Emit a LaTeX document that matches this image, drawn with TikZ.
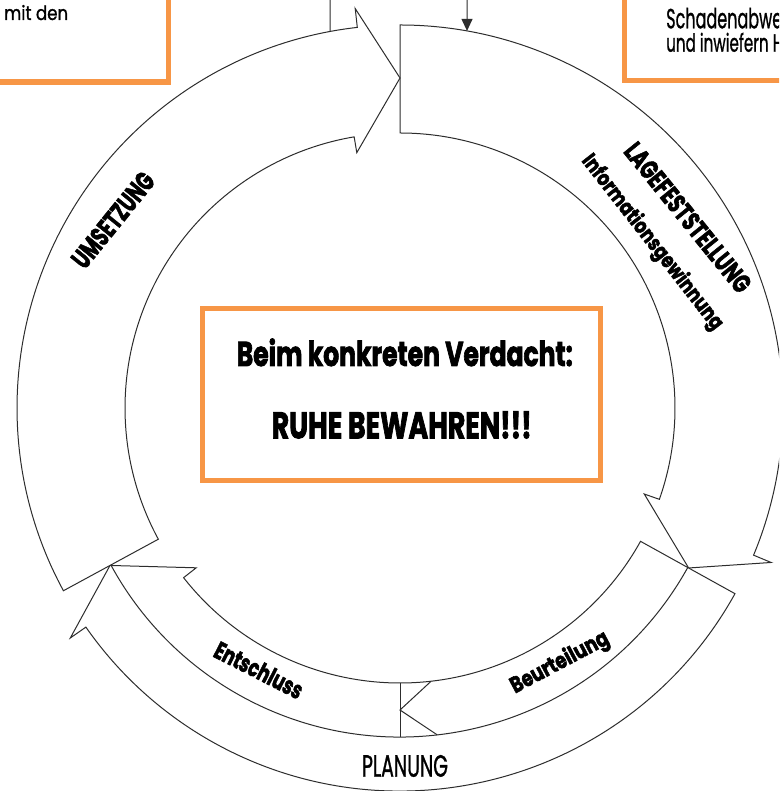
\documentclass[tikz,border=0pt]{standalone}
\usepackage{fontspec}
\setmainfont{Poppins}
\newfontfamily\heavyfont{Poppins}[BoldFeatures={FakeBold=2.5}]
\newfontfamily\medfont{Poppins}[FakeBold=1.2]
\usepackage{graphicx}
\usetikzlibrary{arrows.meta}
\definecolor{orangeline}{RGB}{247,150,70}
\definecolor{lineclr}{RGB}{45,45,45}
\newcommand{\fitt}[3]{\resizebox{#1pt}{#2pt}{#3}}
\begin{document}
\begin{tikzpicture}[x=1pt,y=1pt,
  band/.style={draw=lineclr, line width=1pt, fill=white, line join=miter},
  sepline/.style={draw=lineclr, line width=1pt},
  obox/.style={draw=orangeline, line width=5.5pt, inner sep=0pt},
  lbl/.style={inner sep=0pt, font=\heavyfont\bfseries},
  txt/.style={inner sep=0pt, font=\medfont}
]
\useasboundingbox (-400,-383) rectangle (379,408);
\clip (-400,-383) rectangle (379,408);
\fill[white] (-400,-383) rectangle (379,408);

% orange boxes
\node[obox, minimum width=188.5pt, minimum height=114pt] (boxL) at (-325.75,383) {};
\node[obox, minimum width=200pt, minimum height=114pt] (boxR) at (324.5,384.5) {};
\node[obox, minimum width=398pt, minimum height=172pt] (boxC) at (1.5,13.5) {};

% arrow LAGEFESTSTELLUNG
\draw[band] (90:383) arc[start angle=90, end angle=-22.6, radius=383]
  -- (-22.6:402) -- (-29:330) -- (-19.4:259) -- (-19.4:275)
  arc[start angle=-19.4, end angle=90, radius=275] -- cycle;

% arrow PLANUNG (bottom band)
\draw[band] (-29:383) arc[start angle=-29, end angle=-145.1, radius=383]
  -- (-145.1:402) -- (-151.5:330) -- (-141.9:259) -- (-141.9:275)
  arc[start angle=-141.9, end angle=-29, radius=275] -- cycle;
\draw[sepline] (-29:329) arc[start angle=-29, end angle=-151.5, radius=329];
\draw[sepline] (-90:275) -- (-90:329);
\draw[sepline] (-83.5:275) -- (-90:302) -- (-83.5:329);

% arrow UMSETZUNG
\draw[band] (208.5:383) arc[start angle=208.5, end angle=96.4, radius=383]
  -- (96.4:402) -- (90:330) -- (99.6:259) -- (99.6:275)
  arc[start angle=99.6, end angle=208.5, radius=275] -- cycle;

% connectors from above
\coordinate (lineTop) at (-70,420);
\coordinate (lineEnd) at (100.53:383);
\draw[sepline] (lineTop) -- (lineEnd);
\coordinate (arrTop) at (67,420);
\coordinate (arrEnd) at (79.92:383);
\draw[sepline, -{Triangle[width=11pt,length=12pt]}] (arrTop) -- (arrEnd);

% texts in top boxes
\node[txt, anchor=base west] (tMit) at (-396,388) {\fitt{64}{15}{mit den}};
\node[txt, anchor=base west] (tSch) at (266,379.7) {\fitt{116}{20.5}{Schadenabwe}};
\node[txt, anchor=base west] (tUnd) at (266,356.3) {\fitt{117}{19}{und inwiefern H}};

% center text
\node[lbl, anchor=base] (tBeim) at (4.8,42) {\fitt{336}{27.5}{Beim konkreten Verdacht:}};
\node[lbl, anchor=base] (tRuhe) at (1.7,-30.3) {\fitt{260}{27}{RUHE BEWAHREN!!!}};

% labels on the cycle
\node[lbl, rotate=51] (lUms) at (-287,188) {\fitt{114}{19.5}{UMSETZUNG}};
\node[lbl, rotate=-51] (lLage) at (288,190.5) {\fitt{184}{19}{LAGEFESTSTELLUNG}};
\node[lbl, rotate=-52] (lInfo) at (252,165.5) {\fitt{216}{17}{Informationsgewinnung}};
\node[lbl, rotate=-27] (lEnt) at (-141,-262) {\fitt{96}{18}{Entschluss}};
\node[lbl, rotate=28] (lBeu) at (160,-255) {\fitt{108}{18}{Beurteilung}};
\node[txt, anchor=base] (lPlan) at (5,-368.7) {\fitt{86}{21.7}{PLANUNG}};
\end{tikzpicture}
\end{document}
